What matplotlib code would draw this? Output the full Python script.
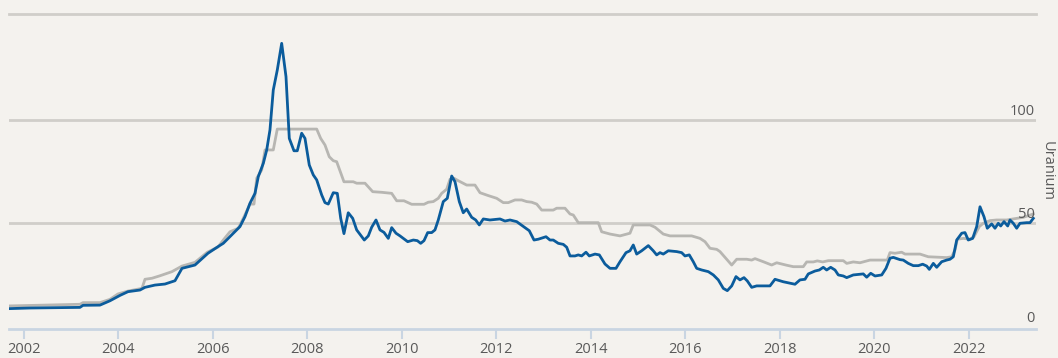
import matplotlib
matplotlib.use("Agg")
import matplotlib.pyplot as plt

# ---- data (decimal years, USD/lb) ----
spot_years = [2001.683, 2002.127, 2003.185, 2003.249, 2003.608, 2003.820, 2004.032, 2004.201, 2004.455, 2004.561,
              2004.772, 2004.984, 2005.196, 2005.344, 2005.619, 2005.894, 2006.106, 2006.218, 2006.430, 2006.571,
              2006.677, 2006.783, 2006.889, 2006.959, 2007.065, 2007.137, 2007.206, 2007.276, 2007.361, 2007.454,
              2007.545, 2007.615, 2007.714, 2007.784, 2007.877, 2007.947, 2008.038, 2008.123, 2008.195, 2008.301,
              2008.370, 2008.440, 2008.546, 2008.631, 2008.703, 2008.772, 2008.863, 2008.957, 2009.041, 2009.202,
              2009.287, 2009.359, 2009.450, 2009.534, 2009.619, 2009.710, 2009.782, 2009.873, 2009.958, 2010.121,
              2010.240, 2010.324, 2010.396, 2010.466, 2010.544, 2010.629, 2010.698, 2010.768, 2010.874, 2010.959,
              2011.052, 2011.122, 2011.213, 2011.297, 2011.369, 2011.475, 2011.560, 2011.636, 2011.721, 2011.862,
              2012.074, 2012.180, 2012.286, 2012.427, 2012.554, 2012.694, 2012.794, 2012.885, 2013.048, 2013.132,
              2013.202, 2013.308, 2013.414, 2013.486, 2013.556, 2013.661, 2013.731, 2013.803, 2013.894, 2013.964,
              2014.085, 2014.176, 2014.296, 2014.402, 2014.529, 2014.614, 2014.741, 2014.825, 2014.895, 2014.967,
              2015.073, 2015.213, 2015.318, 2015.390, 2015.460, 2015.530, 2015.636, 2015.814, 2015.919, 2015.989,
              2016.080, 2016.165, 2016.237, 2016.343, 2016.483, 2016.589, 2016.694, 2016.800, 2016.885, 2016.978,
              2017.069, 2017.153, 2017.238, 2017.308, 2017.401, 2017.507, 2017.788, 2017.894, 2018.070, 2018.317,
              2018.423, 2018.529, 2018.599, 2018.741, 2018.832, 2018.916, 2018.988, 2019.073, 2019.164, 2019.234,
              2019.340, 2019.412, 2019.551, 2019.763, 2019.835, 2019.920, 2020.011, 2020.153, 2020.243, 2020.328,
              2020.398, 2020.540, 2020.609, 2020.715, 2020.821, 2020.927, 2021.020, 2021.105, 2021.160, 2021.245,
              2021.317, 2021.422, 2021.528, 2021.598, 2021.668, 2021.740, 2021.846, 2021.915, 2021.985, 2022.078,
              2022.163, 2022.233, 2022.317, 2022.387, 2022.480, 2022.550, 2022.620, 2022.671, 2022.741, 2022.819,
              2022.868, 2022.938, 2023.009, 2023.079, 2023.221, 2023.291, 2023.361]
spot_price = [8.7, 9.0, 9.3, 10.3, 10.4, 12.5, 15.1, 16.9, 17.7, 19.0,
              20.1, 20.6, 22.2, 28.2, 29.8, 35.5, 38.7, 40.3, 45.2, 48.4,
              53.2, 59.7, 64.5, 72.6, 79.0, 85.5, 95.2, 114.5, 124.2, 137.1,
              121.0, 91.1, 85.1, 85.1, 93.6, 91.1, 78.2, 73.4, 71.0, 63.7,
              60.0, 59.3, 64.8, 64.5, 52.4, 45.0, 55.1, 52.4, 46.8, 41.9,
              43.9, 48.1, 51.6, 46.8, 45.6, 42.7, 47.9, 45.2, 43.9, 41.1,
              41.9, 41.6, 40.3, 41.6, 45.5, 45.5, 46.8, 51.6, 60.5, 62.1,
              72.9, 70.1, 60.5, 55.1, 56.9, 52.9, 51.6, 49.2, 52.1, 51.6,
              52.1, 51.1, 51.6, 50.8, 48.7, 46.4, 41.9, 42.3, 43.5, 41.9,
              41.9, 40.3, 39.8, 38.4, 34.2, 34.2, 34.7, 34.2, 36.0, 34.2,
              35.1, 34.7, 30.3, 28.2, 28.2, 31.4, 35.8, 36.7, 39.5, 35.1,
              36.7, 39.2, 36.7, 34.7, 35.8, 35.1, 36.7, 36.3, 35.8, 34.2,
              34.7, 31.4, 28.2, 27.4, 26.6, 25.0, 22.6, 18.5, 17.4, 19.7,
              24.2, 22.6, 23.7, 22.1, 19.0, 19.7, 19.7, 22.9, 21.7, 20.5,
              22.6, 22.9, 25.5, 26.9, 27.4, 28.7, 27.4, 28.7, 27.4, 25.0,
              24.5, 23.7, 25.0, 25.5, 23.9, 25.8, 24.5, 25.0, 28.2, 33.1,
              33.5, 32.4, 32.2, 30.6, 29.5, 29.5, 30.2, 29.3, 27.7, 30.6,
              28.7, 31.4, 32.2, 32.6, 33.8, 41.9, 45.2, 45.5, 41.9, 42.7,
              48.4, 58.0, 53.2, 47.6, 49.7, 47.6, 50.0, 48.7, 50.8, 48.7,
              51.6, 50.0, 47.6, 50.0, 50.3, 50.3, 52.4]

term_years = [2001.683, 2003.185, 2003.249, 2003.608, 2003.820, 2003.989, 2004.201, 2004.497, 2004.561, 2004.709,
              2004.878, 2005.132, 2005.344, 2005.619, 2005.880, 2006.106, 2006.218, 2006.360, 2006.535, 2006.641,
              2006.783, 2006.868, 2006.925, 2007.031, 2007.101, 2007.276, 2007.361, 2008.195, 2008.279, 2008.370,
              2008.461, 2008.546, 2008.618, 2008.772, 2008.969, 2009.041, 2009.217, 2009.380, 2009.570, 2009.782,
              2009.888, 2010.042, 2010.205, 2010.466, 2010.557, 2010.662, 2010.768, 2010.840, 2010.946, 2011.016,
              2011.101, 2011.192, 2011.369, 2011.545, 2011.651, 2011.827, 2012.004, 2012.144, 2012.250, 2012.392,
              2012.533, 2012.639, 2012.745, 2012.851, 2012.957, 2013.202, 2013.274, 2013.450, 2013.556, 2013.626,
              2013.731, 2014.154, 2014.226, 2014.402, 2014.614, 2014.755, 2014.825, 2014.895, 2015.249, 2015.354,
              2015.530, 2015.672, 2016.131, 2016.307, 2016.413, 2016.519, 2016.660, 2016.730, 2016.836, 2016.978,
              2017.084, 2017.296, 2017.401, 2017.471, 2017.647, 2017.824, 2017.930, 2018.142, 2018.282, 2018.493,
              2018.565, 2018.705, 2018.790, 2018.903, 2019.022, 2019.340, 2019.412, 2019.551, 2019.693, 2019.905,
              2020.271, 2020.328, 2020.434, 2020.575, 2020.646, 2020.963, 2021.139, 2021.528, 2021.634, 2021.704,
              2021.753, 2021.880, 2022.021, 2022.106, 2022.218, 2022.302, 2022.444, 2022.586, 2022.798, 2022.938,
              2023.149, 2023.361]
term_price = [10.0, 10.8, 11.6, 11.6, 13.2, 15.8, 17.2, 18.5, 22.9, 23.4,
              24.6, 26.6, 29.3, 31.1, 36.0, 38.5, 41.9, 45.9, 47.6, 52.4,
              59.3, 59.3, 71.8, 75.8, 85.5, 85.5, 95.6, 95.6, 91.1, 87.9,
              82.2, 80.3, 79.8, 70.1, 70.1, 69.4, 69.4, 65.3, 65.0, 64.5,
              60.9, 60.9, 59.2, 59.2, 60.2, 60.5, 62.1, 64.5, 66.5, 71.3,
              71.8, 70.6, 68.5, 68.5, 64.8, 63.4, 62.1, 60.0, 60.0, 61.3,
              61.3, 60.5, 60.2, 59.3, 56.4, 56.4, 57.3, 57.3, 54.5, 54.0,
              50.3, 50.3, 45.9, 44.8, 43.9, 44.8, 45.2, 49.2, 49.2, 48.1,
              44.8, 43.9, 43.9, 42.7, 41.1, 37.9, 37.4, 36.3, 33.5, 29.8,
              32.6, 32.6, 32.2, 32.9, 31.4, 29.8, 30.9, 29.7, 29.0, 29.0,
              31.3, 31.3, 31.8, 31.3, 31.9, 31.9, 30.6, 31.3, 30.9, 32.2,
              32.2, 35.8, 35.5, 36.0, 35.1, 35.1, 33.8, 33.4, 33.8, 37.1,
              42.3, 42.7, 42.3, 43.5, 48.4, 50.0, 51.3, 51.6, 51.6, 52.1,
              52.9, 54.5]

x_ticks = [2002, 2004, 2006, 2008, 2010, 2012, 2014, 2016, 2018, 2020, 2022]
y_ticks = [0, 50, 100]
y_label = "Uranium"

# ---- style ----
BG = "#f4f2ee"
BLUE = "#0b5c9c"
GREY_LINE = "#b7b6b2"
GRID = "#d0cec9"
AXIS = "#c9d5e2"
TXT = "#595959"

plt.rcParams["font.family"] = ["Open Sans", "DejaVu Sans"]

W, H = 1058, 358
fig = plt.figure(figsize=(W / 100, H / 100), dpi=100, facecolor=BG)
top_px, bot_px, left_px, right_px = 14, 328.5, 9, 1036
ax = fig.add_axes([left_px / W, (H - bot_px) / H, (right_px - left_px) / W, (bot_px - top_px) / H])
ax.set_facecolor(BG)

ax.set_xlim(2001.683, 2023.418)
ax.set_ylim(-0.92, 151.3)

for v in y_ticks[1:]:
    ax.axhline(v, color=GRID, lw=2.0, zorder=1)

ax.plot(spot_years, spot_price, color=BLUE, lw=2.0, zorder=3, solid_joinstyle="round")
ax.plot(term_years, term_price, color=GREY_LINE, lw=2.0, zorder=2, solid_joinstyle="round")

for s in ["left", "right"]:
    ax.spines[s].set_visible(False)
ax.spines["top"].set_color(GRID)
ax.spines["top"].set_linewidth(2.0)
ax.spines["bottom"].set_color(AXIS)
ax.spines["bottom"].set_linewidth(2.0)

ax.set_xticks(x_ticks)
ax.set_xticklabels([str(t) for t in x_ticks])
ax.tick_params(axis="x", direction="out", length=7, width=1.5, color=AXIS,
               labelsize=10.5, labelcolor=TXT, pad=3)
ax.set_yticks([])

ytrans = ax.get_yaxis_transform()
for v in y_ticks:
    ax.annotate(str(v), xy=(0.999, v), xycoords=ytrans, xytext=(0, 3.5), textcoords="offset points",
                ha="right", va="baseline", fontsize=10.5, color=TXT, zorder=4)

fig.text(1047.5 / W, (H - 171) / H, y_label, rotation=-90, ha="center", va="center",
         fontsize=10.5, color=TXT)

fig.savefig("out.png", dpi=100, facecolor=BG)
